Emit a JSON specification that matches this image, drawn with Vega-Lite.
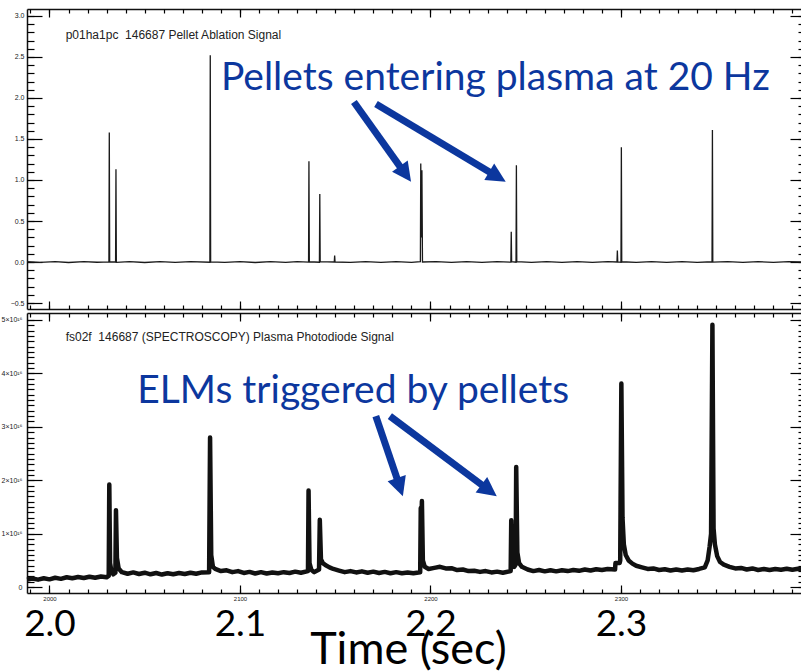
{
  "$schema": "https://vega.github.io/schema/vega-lite/v6.json",
  "background": "white",
  "padding": {"left": 1, "top": 8, "right": 0, "bottom": 0},
  "spacing": 4,
  "bounds": "flush",
  "config": {
    "view": {"stroke": null},
    "axis": {"grid": false, "domain": false, "labels": false, "ticks": true, "tickColor": "#000", "tickWidth": 1.2, "domainColor": "#111", "domainWidth": 1.5, "labelColor": "#222", "labelFont": "Liberation Sans", "labelFlush": false, "labelOverlap": false, "labelBound": false}
  },
  "vconcat": [
    {
      "width": 778,
      "height": 300,
      "resolve": {"axis": {"x": "independent", "y": "independent"}},
      "layer": [
        {
          "data": {"values": [
            {"t":1988.2,"v":0.003},{"t":1995,"v":-0.004},{"t":2003,"v":0.005},{"t":2010,"v":-0.006},{"t":2018,"v":0.004},{"t":2025,"v":-0.003},
            {"t":2031.2,"v":0.002},{"t":2031.4,"v":1.58},{"t":2031.6,"v":0.0},{"t":2034.7,"v":0.003},{"t":2034.9,"v":1.13},{"t":2035.1,"v":-0.004},
            {"t":2042,"v":0.005},{"t":2050,"v":-0.006},{"t":2058,"v":0.004},{"t":2066,"v":-0.004},{"t":2074,"v":0.005},
            {"t":2084.2,"v":-0.003},{"t":2084.4,"v":2.52},{"t":2084.6,"v":0.002},{"t":2092,"v":-0.005},{"t":2100,"v":0.004},{"t":2108,"v":-0.006},{"t":2116,"v":0.005},{"t":2124,"v":-0.004},{"t":2130,"v":0.004},
            {"t":2136.0,"v":-0.002},{"t":2136.2,"v":1.23},{"t":2136.4,"v":0.003},{"t":2141.7,"v":-0.003},{"t":2141.9,"v":0.83},{"t":2142.1,"v":0.004},
            {"t":2149.5,"v":0.0},{"t":2149.7,"v":0.08},{"t":2149.9,"v":0.0},{"t":2158,"v":-0.005},{"t":2166,"v":0.004},{"t":2174,"v":-0.004},{"t":2182,"v":0.005},{"t":2190,"v":-0.004},
            {"t":2194.7,"v":0.003},{"t":2194.9,"v":1.20},{"t":2195.2,"v":0.3},{"t":2195.5,"v":1.12},{"t":2195.8,"v":0.0},
            {"t":2203,"v":0.004},{"t":2211,"v":-0.005},{"t":2219,"v":0.005},{"t":2227,"v":-0.004},{"t":2235,"v":0.004},
            {"t":2242.2,"v":-0.002},{"t":2242.4,"v":0.37},{"t":2242.6,"v":0.003},{"t":2244.9,"v":-0.003},{"t":2245.1,"v":1.18},{"t":2245.3,"v":0.004},
            {"t":2253,"v":-0.004},{"t":2261,"v":0.005},{"t":2269,"v":-0.005},{"t":2277,"v":0.004},{"t":2285,"v":-0.004},{"t":2293,"v":0.005},
            {"t":2297.9,"v":0.0},{"t":2298.1,"v":0.14},{"t":2298.3,"v":0.0},{"t":2300.0,"v":-0.003},{"t":2300.2,"v":1.40},{"t":2300.4,"v":0.003},
            {"t":2308,"v":-0.004},{"t":2316,"v":0.005},{"t":2324,"v":-0.005},{"t":2332,"v":0.004},{"t":2340,"v":-0.004},
            {"t":2347.8,"v":0.003},{"t":2348.0,"v":1.61},{"t":2348.2,"v":-0.002},{"t":2356,"v":0.005},{"t":2364,"v":-0.004},{"t":2372,"v":0.004},{"t":2380,"v":-0.005},{"t":2388,"v":0.004},{"t":2396.6,"v":0.0}
          ]},
          "mark": {"type": "line", "color": "#1a1a1a", "strokeWidth": 1.3},
          "encoding": {
            "x": {"field": "t", "type": "quantitative", "scale": {"domain": [1988.2, 2396.6], "nice": false, "zero": false},
                  "axis": {"orient": "bottom", "values": [2000, 2100, 2200, 2300], "tickSize": -8, "domain": true, "title": null}},
            "y": {"field": "v", "type": "quantitative", "scale": {"domain": [-0.573, 3.085], "nice": false, "zero": false},
                  "axis": {"orient": "left", "values": [-0.5, 0, 0.5, 1, 1.5, 2, 2.5, 3], "format": ".1f", "labels": true, "ticks": false, "domain": true, "labelFontSize": 7, "labelPadding": 3, "title": null}}
          }
        },
        {
          "data": {"values": [{}]},
          "mark": {"type": "text", "text": "p01ha1pc\u00a0 146687 Pellet Ablation Signal", "align": "left", "baseline": "alphabetic", "font": "Liberation Sans", "fontSize": 12, "color": "#222"},
          "encoding": {
            "x": {"datum": 2008.5, "type": "quantitative", "scale": {"domain": [1988.2, 2396.6], "nice": false, "zero": false},
                  "axis": {"orient": "bottom", "values": [1990,2000,2010,2020,2030,2040,2050,2060,2070,2080,2090,2100,2110,2120,2130,2140,2150,2160,2170,2180,2190,2200,2210,2220,2230,2240,2250,2260,2270,2280,2290,2300,2310,2320,2330,2340,2350,2360,2370,2380,2390], "tickSize": -4, "title": null}},
            "y": {"datum": 2.723, "type": "quantitative", "scale": {"domain": [-0.573, 3.085], "nice": false, "zero": false},
                  "axis": {"orient": "left", "values": [-0.5, 0, 0.5, 1, 1.5, 2, 2.5, 3], "tickSize": -15, "title": null}}
          }
        },
        {
          "data": {"values": [{}]},
          "mark": {"type": "text", "text": "Pellets entering plasma at 20 Hz", "align": "left", "baseline": "alphabetic", "font": "Lato", "fontSize": 39, "color": "#0c379e"},
          "encoding": {
            "x": {"datum": 2090.0, "type": "quantitative", "scale": {"domain": [1988.2, 2396.6], "nice": false, "zero": false},
                  "axis": {"orient": "top", "values": [2000, 2100, 2200, 2300], "tickSize": -8, "domain": true, "title": null}},
            "y": {"datum": 2.094, "type": "quantitative", "scale": {"domain": [-0.573, 3.085], "nice": false, "zero": false},
                  "axis": {"orient": "left", "values": [-0.5,-0.4,-0.3,-0.2,-0.1,0,0.1,0.2,0.3,0.4,0.5,0.6,0.7,0.8,0.9,1,1.1,1.2,1.3,1.4,1.5,1.6,1.7,1.8,1.9,2,2.1,2.2,2.3,2.4,2.5,2.6,2.7,2.8,2.9,3], "tickSize": -7, "title": null}}
          }
        },
        {
          "data": {"values": [{}]},
          "mark": {"type": "rule", "color": "#0c379e", "strokeWidth": 7, "strokeCap": "butt"},
          "encoding": {
            "x": {"datum": 2159.8, "type": "quantitative", "scale": {"domain": [1988.2, 2396.6], "nice": false, "zero": false},
                  "axis": {"orient": "top", "values": [1990,2000,2010,2020,2030,2040,2050,2060,2070,2080,2090,2100,2110,2120,2130,2140,2150,2160,2170,2180,2190,2200,2210,2220,2230,2240,2250,2260,2270,2280,2290,2300,2310,2320,2330,2340,2350,2360,2370,2380,2390], "tickSize": -4, "title": null}},
            "y": {"datum": 1.951, "type": "quantitative", "scale": {"domain": [-0.573, 3.085], "nice": false, "zero": false},
                  "axis": {"orient": "right", "values": [-0.5, 0, 0.5, 1, 1.5, 2, 2.5, 3], "tickSize": -15, "domain": true, "title": null}},
            "x2": {"datum": 2185.8},
            "y2": {"datum": 1.105}
          }
        },
        {
          "data": {"values": [{}]},
          "mark": {"type": "rule", "color": "#0c379e", "strokeWidth": 7, "strokeCap": "butt"},
          "encoding": {
            "x": {"datum": 2171.4, "type": "quantitative", "scale": {"domain": [1988.2, 2396.6], "nice": false, "zero": false}, "axis": null},
            "y": {"datum": 1.927, "type": "quantitative", "scale": {"domain": [-0.573, 3.085], "nice": false, "zero": false},
                  "axis": {"orient": "right", "values": [-0.5,-0.4,-0.3,-0.2,-0.1,0,0.1,0.2,0.3,0.4,0.5,0.6,0.7,0.8,0.9,1,1.1,1.2,1.3,1.4,1.5,1.6,1.7,1.8,1.9,2,2.1,2.2,2.3,2.4,2.5,2.6,2.7,2.8,2.9,3], "tickSize": -7, "title": null}},
            "x2": {"datum": 2233.6},
            "y2": {"datum": 1.061}
          }
        },
        {
          "data": {"values": [{}]},
          "mark": {"type": "point", "shape": "M0,0L0.6,1.2L-0.6,1.2Z", "filled": true, "size": 1024, "angle": 144.5, "color": "#0c379e", "opacity": 1, "strokeWidth": 0},
          "encoding": {
            "x": {"datum": 2189.8, "type": "quantitative", "scale": {"domain": [1988.2, 2396.6], "nice": false, "zero": false}, "axis": null},
            "y": {"datum": 0.979, "type": "quantitative", "scale": {"domain": [-0.573, 3.085], "nice": false, "zero": false}, "axis": null}
          }
        },
        {
          "data": {"values": [{}]},
          "mark": {"type": "point", "shape": "M0,0L0.6,1.2L-0.6,1.2Z", "filled": true, "size": 1024, "angle": 120.9, "color": "#0c379e", "opacity": 1, "strokeWidth": 0},
          "encoding": {
            "x": {"datum": 2239.5, "type": "quantitative", "scale": {"domain": [1988.2, 2396.6], "nice": false, "zero": false}, "axis": null},
            "y": {"datum": 0.979, "type": "quantitative", "scale": {"domain": [-0.573, 3.085], "nice": false, "zero": false}, "axis": null}
          }
        }
      ]
    },
    {
      "width": 778,
      "height": 280,
      "resolve": {"axis": {"x": "independent", "y": "independent"}},
      "layer": [
        {
          "data": {"values": [
            {"t":1988.2,"v":0.14e16},{"t":1991,"v":0.16e16},{"t":1994,"v":0.14e16},{"t":1997,"v":0.165e16},{"t":2000,"v":0.145e16},{"t":2003,"v":0.175e16},{"t":2006,"v":0.155e16},{"t":2009,"v":0.185e16},{"t":2012,"v":0.165e16},{"t":2015,"v":0.19e16},{"t":2018,"v":0.17e16},{"t":2021,"v":0.195e16},{"t":2024,"v":0.175e16},{"t":2027,"v":0.2e16},{"t":2030,"v":0.185e16},
            {"t":2031.1,"v":0.21e16},{"t":2031.4,"v":1.92e16},{"t":2031.8,"v":0.45e16},{"t":2032.5,"v":0.3e16},{"t":2033.5,"v":0.24e16},{"t":2034.6,"v":0.27e16},{"t":2034.9,"v":1.44e16},{"t":2035.4,"v":0.55e16},{"t":2036.3,"v":0.35e16},
            {"t":2038,"v":0.28e16},{"t":2041,"v":0.25e16},{"t":2044,"v":0.275e16},{"t":2047,"v":0.245e16},{"t":2050,"v":0.27e16},{"t":2053,"v":0.24e16},{"t":2056,"v":0.265e16},{"t":2059,"v":0.235e16},{"t":2062,"v":0.26e16},{"t":2065,"v":0.24e16},{"t":2068,"v":0.265e16},{"t":2071,"v":0.245e16},{"t":2074,"v":0.27e16},{"t":2077,"v":0.25e16},{"t":2080,"v":0.275e16},
            {"t":2083.8,"v":0.28e16},{"t":2084.3,"v":2.80e16},{"t":2084.9,"v":0.6e16},{"t":2085.8,"v":0.38e16},{"t":2087,"v":0.34e16},{"t":2090,"v":0.3e16},{"t":2093,"v":0.315e16},{"t":2096,"v":0.28e16},{"t":2099,"v":0.3e16},{"t":2102,"v":0.265e16},{"t":2105,"v":0.285e16},{"t":2108,"v":0.255e16},{"t":2111,"v":0.28e16},{"t":2114,"v":0.255e16},{"t":2117,"v":0.275e16},{"t":2120,"v":0.26e16},{"t":2123,"v":0.28e16},{"t":2126,"v":0.265e16},{"t":2129,"v":0.29e16},{"t":2132,"v":0.27e16},
            {"t":2135.7,"v":0.3e16},{"t":2136.0,"v":1.81e16},{"t":2136.5,"v":0.45e16},{"t":2137.5,"v":0.32e16},{"t":2139,"v":0.28e16},{"t":2141.5,"v":0.33e16},{"t":2141.9,"v":1.26e16},{"t":2142.5,"v":0.52e16},{"t":2143.5,"v":0.45e16},{"t":2145,"v":0.41e16},{"t":2147,"v":0.37e16},{"t":2149,"v":0.34e16},
            {"t":2152,"v":0.31e16},{"t":2155,"v":0.28e16},{"t":2158,"v":0.3e16},{"t":2161,"v":0.275e16},{"t":2164,"v":0.295e16},{"t":2167,"v":0.27e16},{"t":2170,"v":0.29e16},{"t":2173,"v":0.265e16},{"t":2176,"v":0.285e16},{"t":2179,"v":0.26e16},{"t":2182,"v":0.28e16},{"t":2185,"v":0.26e16},{"t":2188,"v":0.275e16},{"t":2191,"v":0.26e16},
            {"t":2194.6,"v":0.28e16},{"t":2194.9,"v":1.48e16},{"t":2195.2,"v":1.2e16},{"t":2195.5,"v":1.61e16},{"t":2196.0,"v":0.5e16},{"t":2197,"v":0.38e16},{"t":2199,"v":0.34e16},{"t":2202,"v":0.36e16},{"t":2205,"v":0.38e16},{"t":2208,"v":0.35e16},{"t":2211,"v":0.355e16},{"t":2214,"v":0.32e16},{"t":2217,"v":0.33e16},{"t":2220,"v":0.3e16},{"t":2223,"v":0.305e16},{"t":2226,"v":0.285e16},{"t":2229,"v":0.3e16},{"t":2232,"v":0.275e16},{"t":2235,"v":0.29e16},{"t":2238,"v":0.27e16},
            {"t":2242.1,"v":0.3e16},{"t":2242.4,"v":1.25e16},{"t":2242.9,"v":0.45e16},{"t":2244,"v":0.38e16},{"t":2244.7,"v":0.42e16},{"t":2245.0,"v":2.25e16},{"t":2245.6,"v":0.65e16},{"t":2246.5,"v":0.45e16},{"t":2248,"v":0.38e16},
            {"t":2251,"v":0.33e16},{"t":2254,"v":0.3e16},{"t":2257,"v":0.32e16},{"t":2260,"v":0.295e16},{"t":2263,"v":0.315e16},{"t":2266,"v":0.295e16},{"t":2269,"v":0.315e16},{"t":2272,"v":0.3e16},{"t":2275,"v":0.32e16},{"t":2278,"v":0.305e16},{"t":2281,"v":0.33e16},{"t":2284,"v":0.31e16},{"t":2287,"v":0.335e16},{"t":2290,"v":0.32e16},{"t":2293,"v":0.34e16},
            {"t":2296.9,"v":0.33e16},{"t":2297.1,"v":0.45e16},{"t":2299.3,"v":0.45e16},{"t":2299.6,"v":0.5e16},{"t":2300.2,"v":3.81e16},{"t":2300.8,"v":1.3e16},{"t":2301.5,"v":0.8e16},{"t":2302.5,"v":0.6e16},{"t":2304,"v":0.5e16},{"t":2306,"v":0.44e16},{"t":2308,"v":0.4e16},
            {"t":2311,"v":0.37e16},{"t":2314,"v":0.34e16},{"t":2317,"v":0.35e16},{"t":2320,"v":0.32e16},{"t":2323,"v":0.335e16},{"t":2326,"v":0.31e16},{"t":2329,"v":0.33e16},{"t":2332,"v":0.31e16},{"t":2335,"v":0.33e16},{"t":2338,"v":0.315e16},{"t":2341,"v":0.34e16},{"t":2344,"v":0.37e16},
            {"t":2345.5,"v":0.5e16},{"t":2346.5,"v":0.75e16},{"t":2347.3,"v":1.0e16},{"t":2348.0,"v":4.91e16},{"t":2348.6,"v":1.1e16},{"t":2349.3,"v":0.8e16},{"t":2350.5,"v":0.58e16},{"t":2352,"v":0.47e16},{"t":2354,"v":0.42e16},{"t":2357,"v":0.38e16},
            {"t":2360,"v":0.35e16},{"t":2363,"v":0.36e16},{"t":2366,"v":0.33e16},{"t":2369,"v":0.35e16},{"t":2372,"v":0.32e16},{"t":2375,"v":0.34e16},{"t":2378,"v":0.32e16},{"t":2381,"v":0.34e16},{"t":2384,"v":0.325e16},{"t":2387,"v":0.345e16},{"t":2390,"v":0.325e16},{"t":2393,"v":0.345e16},{"t":2396.6,"v":0.33e16}
          ]},
          "mark": {"type": "line", "color": "#111", "strokeWidth": 4.5, "strokeJoin": "round"},
          "encoding": {
            "x": {"field": "t", "type": "quantitative", "scale": {"domain": [1988.2, 2396.6], "nice": false, "zero": false},
                  "axis": {"orient": "bottom", "values": [2000, 2100, 2200, 2300], "format": "d", "labels": true, "ticks": false, "domain": true, "labelFontSize": 6, "labelPadding": 2, "title": null}},
            "y": {"field": "v", "type": "quantitative", "scale": {"domain": [-1.1e15, 5.13e16], "nice": false, "zero": false},
                  "axis": {"orient": "left", "values": [0, 1e16, 2e16, 3e16, 4e16, 5e16], "labelExpr": "datum.value == 0 ? '0' : format(datum.value/1e16, 'd') + '×10¹⁶'", "labels": true, "ticks": false, "domain": true, "labelFontSize": 7, "labelPadding": 5, "title": null}}
          }
        },
        {
          "data": {"values": [{}]},
          "mark": {"type": "text", "text": "fs02f\u00a0 146687 (SPECTROSCOPY) Plasma Photodiode Signal", "align": "left", "baseline": "alphabetic", "font": "Liberation Sans", "fontSize": 12, "color": "#222"},
          "encoding": {
            "x": {"datum": 2008.5, "type": "quantitative", "scale": {"domain": [1988.2, 2396.6], "nice": false, "zero": false},
                  "axis": {"orient": "bottom", "values": [2000, 2100, 2200, 2300], "labelExpr": "format(datum.value/1000, '.1f')", "labels": true, "ticks": false, "labelFont": "Lato", "labelFontSize": 37, "labelColor": "#000", "labelPadding": 13,
                           "title": "Time (sec)", "titleFont": "Lato", "titleFontSize": 45, "titleFontWeight": "normal", "titleColor": "#000", "titleBaseline": "alphabetic", "titleX": 381, "titleY": 70, "titleAlign": "center"}},
            "y": {"datum": 4.607e16, "type": "quantitative", "scale": {"domain": [-1.1e15, 5.13e16], "nice": false, "zero": false},
                  "axis": {"orient": "left", "values": [0, 1e16, 2e16, 3e16, 4e16, 5e16], "tickSize": -15, "title": null}}
          }
        },
        {
          "data": {"values": [{}]},
          "mark": {"type": "text", "text": "ELMs triggered by pellets", "align": "left", "baseline": "alphabetic", "font": "Lato", "fontSize": 39, "color": "#0c379e"},
          "encoding": {
            "x": {"datum": 2046.1, "type": "quantitative", "scale": {"domain": [1988.2, 2396.6], "nice": false, "zero": false},
                  "axis": {"orient": "bottom", "values": [2000, 2100, 2200, 2300], "tickSize": -8, "title": null}},
            "y": {"datum": 3.44e16, "type": "quantitative", "scale": {"domain": [-1.1e15, 5.13e16], "nice": false, "zero": false},
                  "axis": {"orient": "left", "values": [0,1e15,2e15,3e15,4e15,5e15,6e15,7e15,8e15,9e15,1e16,1.1e16,1.2e16,1.3e16,1.4e16,1.5e16,1.6e16,1.7e16,1.8e16,1.9e16,2e16,2.1e16,2.2e16,2.3e16,2.4e16,2.5e16,2.6e16,2.7e16,2.8e16,2.9e16,3e16,3.1e16,3.2e16,3.3e16,3.4e16,3.5e16,3.6e16,3.7e16,3.8e16,3.9e16,4e16,4.1e16,4.2e16,4.3e16,4.4e16,4.5e16,4.6e16,4.7e16,4.8e16,4.9e16,5e16], "tickSize": -7, "title": null}}
          }
        },
        {
          "data": {"values": [{}]},
          "mark": {"type": "rule", "color": "#0c379e", "strokeWidth": 7, "strokeCap": "butt"},
          "encoding": {
            "x": {"datum": 2171.3, "type": "quantitative", "scale": {"domain": [1988.2, 2396.6], "nice": false, "zero": false},
                  "axis": {"orient": "bottom", "values": [1990,2000,2010,2020,2030,2040,2050,2060,2070,2080,2090,2100,2110,2120,2130,2140,2150,2160,2170,2180,2190,2200,2210,2220,2230,2240,2250,2260,2270,2280,2290,2300,2310,2320,2330,2340,2350,2360,2370,2380,2390], "tickSize": -4, "title": null}},
            "y": {"datum": 3.20e16, "type": "quantitative", "scale": {"domain": [-1.1e15, 5.13e16], "nice": false, "zero": false},
                  "axis": {"orient": "right", "values": [0, 1e16, 2e16, 3e16, 4e16, 5e16], "tickSize": -15, "domain": true, "title": null}},
            "x2": {"datum": 2183.4},
            "y2": {"datum": 1.934e16}
          }
        },
        {
          "data": {"values": [{}]},
          "mark": {"type": "rule", "color": "#0c379e", "strokeWidth": 7, "strokeCap": "butt"},
          "encoding": {
            "x": {"datum": 2178.7, "type": "quantitative", "scale": {"domain": [1988.2, 2396.6], "nice": false, "zero": false},
                  "axis": {"orient": "top", "values": [2000, 2100, 2200, 2300], "tickSize": -8, "domain": true, "title": null}},
            "y": {"datum": 3.20e16, "type": "quantitative", "scale": {"domain": [-1.1e15, 5.13e16], "nice": false, "zero": false},
                  "axis": {"orient": "right", "values": [0,1e15,2e15,3e15,4e15,5e15,6e15,7e15,8e15,9e15,1e16,1.1e16,1.2e16,1.3e16,1.4e16,1.5e16,1.6e16,1.7e16,1.8e16,1.9e16,2e16,2.1e16,2.2e16,2.3e16,2.4e16,2.5e16,2.6e16,2.7e16,2.8e16,2.9e16,3e16,3.1e16,3.2e16,3.3e16,3.4e16,3.5e16,3.6e16,3.7e16,3.8e16,3.9e16,4e16,4.1e16,4.2e16,4.3e16,4.4e16,4.5e16,4.6e16,4.7e16,4.8e16,4.9e16,5e16], "tickSize": -7, "title": null}},
            "x2": {"datum": 2229.3},
            "y2": {"datum": 1.85e16}
          }
        },
        {
          "data": {"values": [{}]},
          "mark": {"type": "point", "shape": "M0,0L0.6,1.2L-0.6,1.2Z", "filled": true, "size": 1024, "angle": 161.3, "color": "#0c379e", "opacity": 1, "strokeWidth": 0},
          "encoding": {
            "x": {"datum": 2185.5, "type": "quantitative", "scale": {"domain": [1988.2, 2396.6], "nice": false, "zero": false},
                  "axis": {"orient": "top", "values": [1990,2000,2010,2020,2030,2040,2050,2060,2070,2080,2090,2100,2110,2120,2130,2140,2150,2160,2170,2180,2190,2200,2210,2220,2230,2240,2250,2260,2270,2280,2290,2300,2310,2320,2330,2340,2350,2360,2370,2380,2390], "tickSize": -4, "title": null}},
            "y": {"datum": 1.70e16, "type": "quantitative", "scale": {"domain": [-1.1e15, 5.13e16], "nice": false, "zero": false}, "axis": null}
          }
        },
        {
          "data": {"values": [{}]},
          "mark": {"type": "point", "shape": "M0,0L0.6,1.2L-0.6,1.2Z", "filled": true, "size": 1024, "angle": 126.9, "color": "#0c379e", "opacity": 1, "strokeWidth": 0},
          "encoding": {
            "x": {"datum": 2234.8, "type": "quantitative", "scale": {"domain": [1988.2, 2396.6], "nice": false, "zero": false}, "axis": null},
            "y": {"datum": 1.70e16, "type": "quantitative", "scale": {"domain": [-1.1e15, 5.13e16], "nice": false, "zero": false}, "axis": null}
          }
        }
      ]
    }
  ]
}
